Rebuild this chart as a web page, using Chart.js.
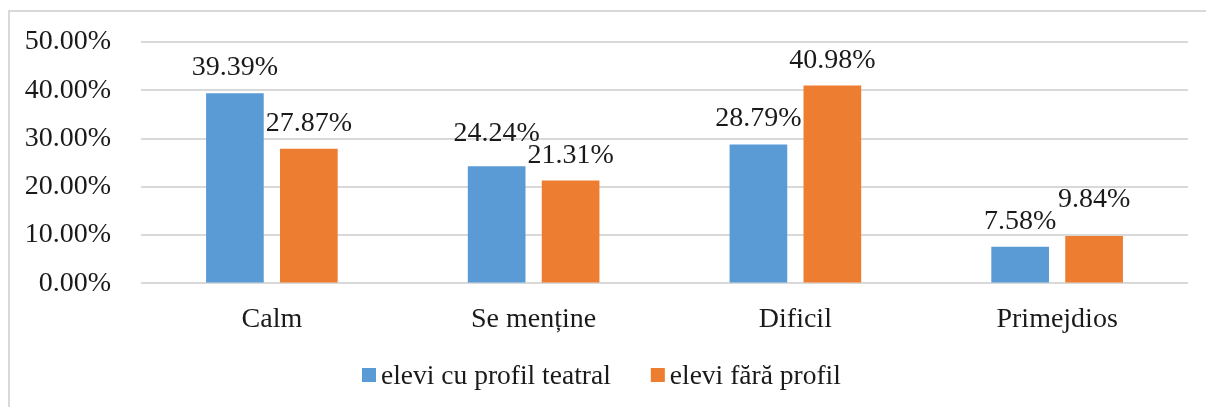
<!DOCTYPE html>
<html>
<head>
<meta charset="utf-8">
<script src="https://cdn.jsdelivr.net/npm/chart.js@4.4.0/dist/chart.umd.min.js"></script>
<style>
html,body{margin:0;background:#fff;overflow:hidden;}
</style>
</head>
<body>

<canvas id="chart" width="1206" height="407"></canvas>

<script>

// Data

const categories = ["Calm","Se menține","Dificil","Primejdios"];

const teatral = [39.39,24.24,28.79,7.58];

const faraProfil = [27.87,21.31,40.98,9.84];

const seriesNames = ["elevi cu profil teatral","elevi fără profil"];

const FONT = "'Liberation Serif','Times New Roman',serif";

// Chart frame (only top and left edges visible)

const frame = {
id:"frame",
beforeDraw(chart){
const ctx = chart.ctx;
ctx.save();
ctx.strokeStyle = "#d9d9d9";
ctx.lineWidth = 2;
ctx.beginPath();
ctx.moveTo(9,407);
ctx.lineTo(9,11);
ctx.lineTo(1206,11);
ctx.stroke();
ctx.restore();
}
};

// Value labels above bars (pushed up when two labels collide)

const valueLabels = {
id:"valueLabels",
afterDatasetsDraw(chart){
const ctx = chart.ctx;
ctx.save();
ctx.font = "28px " + FONT;
ctx.fillStyle = "#1a1a1a";
ctx.textAlign = "center";
ctx.textBaseline = "alphabetic";
const m0 = chart.getDatasetMeta(0).data;
const m1 = chart.getDatasetMeta(1).data;
const d0 = chart.data.datasets[0].data;
const d1 = chart.data.datasets[1].data;
for(let j=0;j<categories.length;j++){
const t0 = d0[j].toFixed(2)+"%";
const t1 = d1[j].toFixed(2)+"%";
const w0 = ctx.measureText(t0).width;
const w1 = ctx.measureText(t1).width;
let y0 = m0[j].y-18;
let y1 = m1[j].y-18;
const hOverlap = (m0[j].x+w0/2+4) > (m1[j].x-w1/2-4);
if(hOverlap && Math.abs(y0-y1) < 22){
if(y0<=y1){ y0 = y1-22; } else { y1 = y0-22; }
}
ctx.fillText(t0, m0[j].x, y0);
ctx.fillText(t1, m1[j].x, y1);
}
ctx.restore();
}
};

// Legend drawn under the axis, Excel style

const bottomLegend = {
id:"bottomLegend",
afterDraw(chart){
const ctx = chart.ctx;
ctx.save();
ctx.font = "27.5px " + FONT;
ctx.textBaseline = "middle";
ctx.textAlign = "left";
const box = 14, gap = 5, between = 40;
let x = 362;
const y = 376;
chart.data.datasets.forEach(function(ds){
ctx.fillStyle = ds.backgroundColor;
ctx.fillRect(x, y-8, box, box);
x += box + gap;
ctx.fillStyle = "#1a1a1a";
ctx.fillText(ds.label, x, y+1);
x += ctx.measureText(ds.label).width + between;
});
ctx.restore();
}
};

new Chart(
document.getElementById("chart"),
{
type:"bar",
data:{
labels:categories,
datasets:[
{
label:seriesNames[0],
data:teatral,
backgroundColor:"#5b9bd5",
categoryPercentage:0.565,
barPercentage:0.78
},
{
label:seriesNames[1],
data:faraProfil,
backgroundColor:"#ed7d31",
categoryPercentage:0.565,
barPercentage:0.78
}
]
},
options:{
responsive:false,
animation:false,
layout:{
padding:{left:0,right:18,top:42,bottom:60}
},
scales:{
x:{
grid:{display:false},
border:{display:false},
ticks:{
color:"#1a1a1a",
padding:11,
font:{family:FONT,size:28}
}
},
y:{
min:0,
max:50,
afterFit:function(scale){
scale.width = 141;
scale.paddingTop = 0;
scale.paddingBottom = 0;
},
grid:{color:"#d9d9d9",lineWidth:2,drawTicks:false},
border:{display:false},
ticks:{
stepSize:10,
padding:30,
color:"#1a1a1a",
font:{family:FONT,size:28},
callback:function(v){ return v.toFixed(2)+"%"; }
}
}
},
plugins:{
legend:{display:false},
tooltip:{enabled:false}
}
},
plugins:[frame,valueLabels,bottomLegend]
}
);

</script>
</body>
</html>
